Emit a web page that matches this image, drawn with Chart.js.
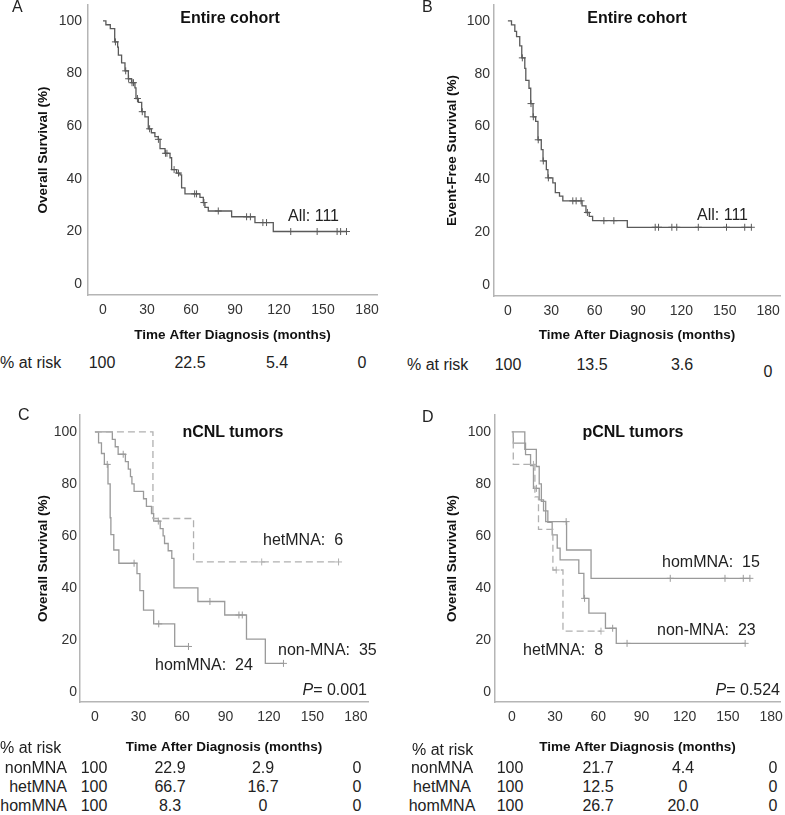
<!DOCTYPE html>
<html>
<head>
<meta charset="utf-8">
<script src="https://cdn.jsdelivr.net/npm/chart.js@4.4.1/dist/chart.umd.min.js"></script>
<style>
body { margin: 0; background: #fff; width: 785px; height: 815px; position: relative; overflow: hidden; font-family: "Liberation Sans", Arial, sans-serif; }
canvas { position: absolute; }
.t { position: absolute; white-space: nowrap; color: #222; font-size: 16px; line-height: 18px; }
.b { font-weight: bold; color: #111; }
</style>
</head>
<body>
<canvas id="chartA" width="392" height="345" style="left:0;top:0"></canvas>
<canvas id="chartB" width="393" height="345" style="left:392px;top:0"></canvas>
<canvas id="chartC" width="392" height="360" style="left:0;top:400px"></canvas>
<canvas id="chartD" width="393" height="360" style="left:392px;top:400px"></canvas>
<script>
const tickX = [0, 30, 60, 90, 120, 150, 180];
const tickY = [0, 20, 40, 60, 80, 100];

// A: overall survival, entire cohort
const osTimes = [0, 2, 5, 8, 10, 10.5, 12.7, 15, 17.3, 19.5, 21.8, 22.5, 24.1, 26.4, 28.6, 30.9, 33, 35.4, 37.7, 38.9, 42.3, 45.7, 46.8, 50.2, 52.5, 53.6, 55.9, 66.1, 68.4, 69.5, 71.8, 87.7, 103.6, 116.1];
const osSurv  = [100, 98.5, 97, 92, 90, 87, 84, 81, 78, 76.5, 74.5, 70.5, 69, 65.5, 63.5, 59, 57.5, 56, 55, 51.5, 49.7, 48, 43.5, 42.2, 41.5, 36.6, 34.3, 33, 31, 29.2, 27.8, 25.6, 23.4, 20];
const osCensor = [8.5, 15.5, 17.5, 19.8, 20.8, 23.5, 26.8, 31.8, 37.8, 42.6, 43.6, 48.5, 51.5, 62.5, 63.8, 68.8, 78.6, 97.9, 100.5, 109, 111.5, 128, 146, 159.6, 162, 166];

// B: event-free survival, entire cohort
const efsTimes = [0, 2.5, 4.8, 6, 8.2, 9.6, 11.7, 12.4, 14.6, 15.8, 17.4, 19.2, 20.8, 23.1, 24.3, 26.6, 27.7, 31.1, 32.8, 35.7, 38, 51.3, 54, 56.3, 58.6, 82.6];
const efsSurv  = [100, 98.5, 96, 94, 90.5, 86, 82, 77.5, 74.5, 68.7, 63.7, 62, 55, 51.3, 47, 43.7, 40.6, 38.7, 35, 33.7, 31.9, 30, 27.5, 26, 24.4, 21.9];
const efsCensor = [10, 16, 17.6, 21, 24.5, 28, 44.9, 47.2, 50.6, 55, 66.4, 73.3, 101.9, 104.2, 113.4, 116.8, 131.7, 151.2, 163.8, 168.4];

// C: nCNL tumors
const cNonTimes = [0, 12, 14, 16, 21, 23, 24.5, 25.5, 27, 33.5, 35.5, 39, 40.5, 45, 47, 48, 50.5, 53, 54.5, 71, 89.5, 104.5, 117.5];
const cNonSurv  = [100, 97.1, 94.3, 91.4, 88.6, 85.7, 82.8, 80, 77.1, 74.3, 71.4, 68.6, 65.7, 62.8, 60, 57.1, 54.3, 51.4, 40, 34.8, 29.6, 20.3, 11];
const cNonCensor = [19.5, 43.7, 79.3, 99.3, 101.6, 130];
const cHetTimes = [0, 40, 68];
const cHetSurv  = [100, 66.7, 50];
const cHetCensor = [115, 168];
const cHomTimes = [0, 2.5, 4.5, 6.5, 9, 10.5, 11, 13, 16.5, 29, 31, 33.5, 40.5, 55];
const cHomSurv  = [100, 95.8, 91.7, 87.5, 80, 67, 60.5, 54.6, 49.5, 45.5, 39, 31.5, 26.2, 17.5];
const cHomCensor = [8.5, 27, 44, 64.5];

// D: pCNL tumors
const dNonTimes = [0, 1, 9.5, 13, 15, 19, 22, 25, 28, 31.5, 33.5, 46.5, 50, 53.5, 65, 72.5];
const dNonSurv  = [100, 95.7, 91.3, 87, 78.3, 73.9, 69.6, 65.2, 60.4, 55.3, 50.8, 45.6, 36, 30.3, 24.5, 18.7];
const dNonCensor = [17, 50.5, 70, 80, 162];
const dHetTimes = [0, 1, 16, 18.5, 28.5, 35.5];
const dHetSurv  = [100, 87.5, 75, 62.5, 46.9, 23.4];
const dHetCensor = [15, 30.8, 61.9];
const dHomTimes = [0, 9, 17, 19, 20.5, 23.5, 38, 55];
const dHomSurv  = [100, 93.3, 86.7, 80, 73.3, 65.5, 54.6, 43.7];
const dHomCensor = [37.7, 110, 148, 160.7, 165.3];

// % at risk tables
const riskA = ["100", "22.5", "5.4", "0"];
const riskB = ["100", "13.5", "3.6", "0"];
const riskCGroups = ["nonMNA", "hetMNA", "homMNA"];
const riskC = [["100", "22.9", "2.9", "0"], ["100", "66.7", "16.7", "0"], ["100", "8.3", "0", "0"]];
const riskD = [["100", "21.7", "4.4", "0"], ["100", "12.5", "0", "0"], ["100", "26.7", "20.0", "0"]];

const FONT = "'Liberation Sans', Arial, sans-serif";

function survAt(times, surv, t) {
    let s = surv[0];
    for (let i = 0; i < times.length; i++) {
        if (times[i] <= t) s = surv[i];
    }
    return s;
}

function kmLine(times, surv, censor, color, dash) {
    const end = Math.max(times[times.length - 1], ...censor);
    const pts = times.map((t, i) => ({ x: t, y: surv[i] }));
    pts.push({ x: end, y: surv[surv.length - 1] });
    return {
        data: pts,
        borderColor: color,
        borderWidth: 1.3,
        borderDash: dash || [],
        pointRadius: 0,
        stepped: true,
        fill: false
    };
}

function kmCensor(times, surv, censor, color) {
    return {
        data: censor.map(t => ({ x: t, y: survAt(times, surv, t) })),
        showLine: false,
        pointStyle: "cross",
        pointRadius: 3.5,
        borderColor: color,
        borderWidth: 1,
        backgroundColor: color
    };
}

function kmChart(id, o) {
    return new Chart(document.getElementById(id), {
        type: "line",
        data: { datasets: o.datasets },
        options: {
            responsive: false,
            animation: false,
            layout: { padding: o.pad },
            plugins: { legend: { display: false }, tooltip: { enabled: false } },
            scales: {
                x: {
                    type: "linear",
                    min: o.xmin, max: o.xmax,
                    grid: { display: false, drawTicks: false },
                    border: { display: true, color: "#b5b5b5", width: 1.5 },
                    ticks: { autoSkip: false, maxRotation: 0, padding: 7, color: "#333", font: { family: FONT, size: 14 } },
                    afterBuildTicks: s => { s.ticks = tickX.map(v => ({ value: v })); },
                    afterFit: s => { s.height = o.xh; s.paddingLeft = 0; s.paddingRight = 0; },
                    title: { display: true, text: "Time After Diagnosis (months)", color: "#111",
                             font: { family: FONT, size: 13.5, weight: "bold" }, padding: { top: 0, bottom: o.xtPad } }
                },
                y: {
                    min: o.ymin, max: o.ymax,
                    grid: { display: false, drawTicks: false },
                    border: { display: true, color: "#b5b5b5", width: 1.5 },
                    ticks: { padding: o.ytickPad, color: "#333", font: { family: FONT, size: 14 } },
                    afterBuildTicks: s => { s.ticks = tickY.map(v => ({ value: v })); },
                    afterFit: s => { s.width = o.yw; s.paddingTop = 0; s.paddingBottom = 0; },
                    title: { display: true, text: o.ytitle, color: "#111",
                             font: { family: FONT, size: 13.5, weight: "bold" }, padding: { top: o.ytPad, bottom: 0 } }
                }
            }
        }
    });
}

function addText(str, x, y, align, cls) {
    const d = document.createElement("div");
    d.className = "t" + (cls ? " " + cls : "");
    d.innerHTML = str;
    d.style.left = x + "px";
    d.style.top = y + "px";
    const tx = align === "right" ? "-100%" : align === "left" ? "0" : "-50%";
    d.style.transform = "translate(" + tx + ",-50%)";
    document.body.appendChild(d);
}

const dark = "#5a5a5a";
const light = "#9a9a9a";
const dashC = "#b0b0b0";

kmChart("chartA", {
    datasets: [kmLine(osTimes, osSurv, osCensor, dark), kmCensor(osTimes, osSurv, osCensor, dark)],
    pad: { left: 0, top: 2, right: 15, bottom: 0 },
    xmin: -10.2, xmax: 186.8, ymin: -4.1, ymax: 106,
    xh: 50, yw: 88, xtPad: 2, ytPad: 35, ytickPad: 6,
    ytitle: "Overall Survival (%)"
});

kmChart("chartB", {
    datasets: [kmLine(efsTimes, efsSurv, efsCensor, dark), kmCensor(efsTimes, efsSurv, efsCensor, dark)],
    pad: { left: 0, top: 2, right: 3, bottom: 0 },
    xmin: -9.6, xmax: 188.2, ymin: -4.1, ymax: 106,
    xh: 49, yw: 102, xtPad: 2, ytPad: 52, ytickPad: 4,
    ytitle: "Event-Free Survival (%)"
});

kmChart("chartC", {
    datasets: [
        kmLine(cHetTimes, cHetSurv, cHetCensor, dashC, [7, 4]), kmCensor(cHetTimes, cHetSurv, cHetCensor, dashC),
        kmLine(cNonTimes, cNonSurv, cNonCensor, light), kmCensor(cNonTimes, cNonSurv, cNonCensor, light),
        kmLine(cHomTimes, cHomSurv, cHomCensor, light), kmCensor(cHomTimes, cHomSurv, cHomCensor, light)
    ],
    pad: { left: 0, top: 15, right: 24, bottom: 0 },
    xmin: -10.3, xmax: 188.3, ymin: -3.85, ymax: 106.5,
    xh: 58, yw: 80, xtPad: 5, ytPad: 35, ytickPad: 3,
    ytitle: "Overall Survival (%)"
});

kmChart("chartD", {
    datasets: [
        kmLine(dHetTimes, dHetSurv, dHetCensor, dashC, [7, 4]), kmCensor(dHetTimes, dHetSurv, dHetCensor, dashC),
        kmLine(dNonTimes, dNonSurv, dNonCensor, light), kmCensor(dNonTimes, dNonSurv, dNonCensor, light),
        kmLine(dHomTimes, dHomSurv, dHomCensor, light), kmCensor(dHomTimes, dHomSurv, dHomCensor, light)
    ],
    pad: { left: 0, top: 15, right: 3, bottom: 0 },
    xmin: -11.7, xmax: 186.2, ymin: -3.85, ymax: 106.5,
    xh: 58, yw: 103, xtPad: 5, ytPad: 52, ytickPad: 4,
    ytitle: "Overall Survival (%)"
});

// panel letters and titles
addText("A", 12, 7, "left");
addText("B", 422, 7, "left");
addText("C", 18, 415, "left");
addText("D", 422, 417, "left");
addText("Entire cohort", 230, 18, "center", "b");
addText("Entire cohort", 637, 18, "center", "b");
addText("nCNL tumors", 233, 432, "center", "b");
addText("pCNL tumors", 633, 432, "center", "b");

// curve labels
addText("All: 111", 288, 216, "left");
addText("All: 111", 697, 215, "left");
addText("hetMNA: &nbsp;6", 263, 540, "left");
addText("non-MNA: &nbsp;35", 278, 650, "left");
addText("homMNA: &nbsp;24", 155, 665, "left");
addText("<i>P</i>= 0.001", 367, 690, "right");
addText("homMNA: &nbsp;15", 662, 562, "left");
addText("non-MNA: &nbsp;23", 657, 630, "left");
addText("hetMNA: &nbsp;8", 523, 650, "left");
addText("<i>P</i>= 0.524", 780, 690, "right");

// at-risk tables
const colA = [102, 190, 277, 362];
const colB = [508, 592, 682, 768];
const colC = [94, 170, 263, 357];
const colD = [510, 598, 683, 773];
addText("% at risk", 0, 363, "left");
riskA.forEach((v, i) => addText(v, colA[i], 363, "center"));
addText("% at risk", 407, 365, "left");
riskB.forEach((v, i) => addText(v, colB[i], i === 3 ? 372 : 365, "center"));

const rowY = [768, 787, 806];
addText("% at risk", 0, 748, "left");
addText("% at risk", 412, 750, "left");
riskCGroups.forEach((g, r) => {
    addText(g, 67, rowY[r], "right");
    riskC[r].forEach((v, i) => addText(v, colC[i], rowY[r], "center"));
    addText(g, 442, rowY[r], "center");
    riskD[r].forEach((v, i) => addText(v, colD[i], rowY[r], "center"));
});
</script>
</body>
</html>
